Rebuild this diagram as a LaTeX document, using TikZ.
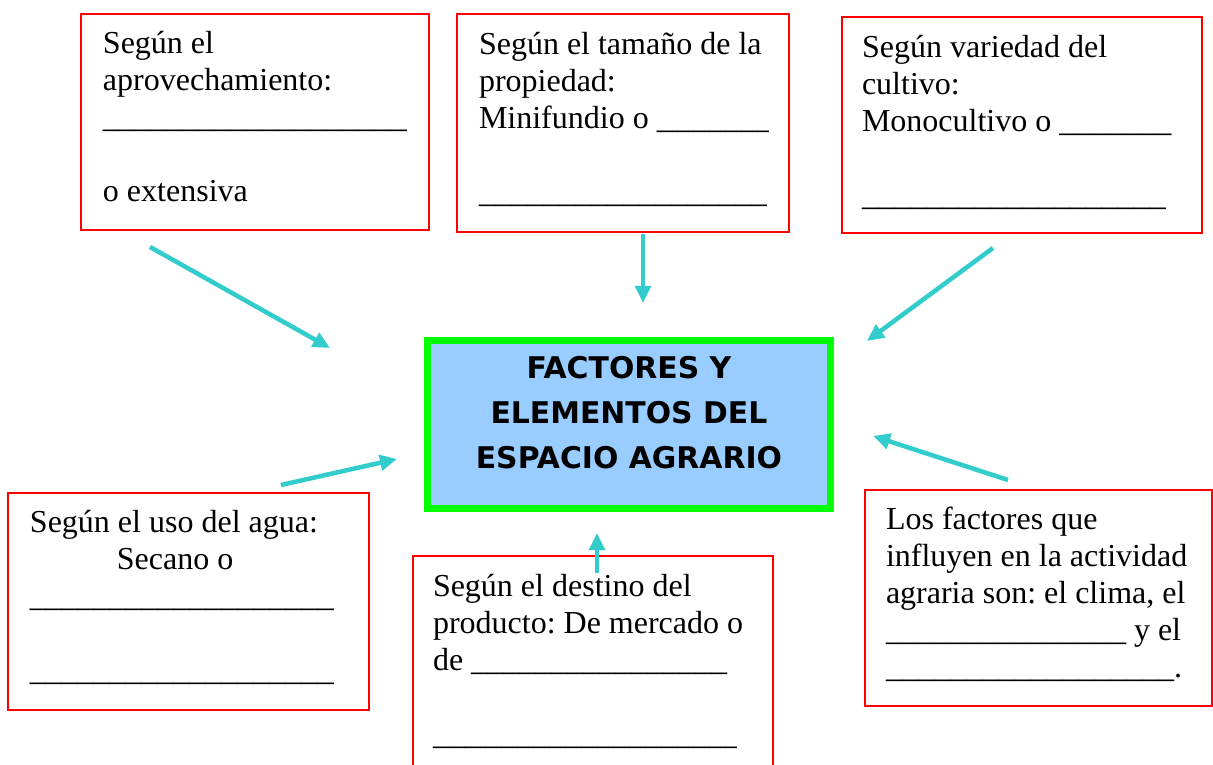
\documentclass[tikz,border=0pt]{standalone}
\usepackage{fontspec}
\setmainfont{Liberation Serif}
\newfontfamily\titlefont{DejaVu Sans}
\usetikzlibrary{arrows.meta}
\definecolor{rojo}{RGB}{255,0,0}
\definecolor{verde}{RGB}{0,255,0}
\definecolor{azul}{RGB}{153,204,255}
\definecolor{turquesa}{RGB}{51,204,204}
% a row of n underscores
\newcommand\rayas[1]{\ifnum#1>0 \_\expandafter\rayas\expandafter{\the\numexpr#1-1\relax}\fi}
\newcommand\textocaja{\fontsize{12}{13.875}\selectfont\frenchspacing
  \spaceskip=3pt plus 0.5pt minus 0.5pt\relax\hyphenpenalty=10000\relax}

\begin{document}
\begin{tikzpicture}[
                x=0.375pt, y=-0.375pt,
                ->,
                >={Triangle[length=6.4pt,width=5.8pt]},
                caja/.style={draw=rojo, line width=0.75pt, rectangle, anchor=north west,
                  outer sep=0pt, inner ysep=0pt, align=flush left, font=\textocaja},
                titulo/.style={draw=verde, fill=azul, line width=2.625pt, rectangle,
                  anchor=north west, outer sep=0pt, inner sep=0pt, align=flush center,
                  text width=151.1pt, text height=14.44pt, text depth=48.56pt,
                  font=\titlefont\bfseries\fontsize{11.2}{16.875}\selectfont},
                every edge/.style={draw=turquesa, line width=1.7pt}
                ]
            \useasboundingbox (0,0) rectangle (1213,765);
            \clip (0,0) rectangle (1213,765);
            % Nodes
            \node[titulo] (titulo) at (427.5,340.5)
              {FACTORES Y\\ELEMENTOS DEL\\ESPACIO AGRARIO};
            \node[caja, inner xsep=8.25pt, text width=114pt, text height=15pt, text depth=66pt]
              (aprov) at (81,14)
              {Según el\\aprovechamiento:\\\rayas{19}\\[\baselineskip]o extensiva};
            \node[caja, inner xsep=8.25pt, text width=108pt, text height=15.375pt, text depth=66.375pt]
              (propiedad) at (457,14)
              {Según el tamaño de la\\propiedad:\\\mbox{Minifundio o \rayas{7}}\\[\baselineskip]\rayas{18}};
            \node[caja, inner xsep=7.5pt, text width=120pt, text height=15.375pt, text depth=65.625pt]
              (variedad) at (842,17)
              {Según variedad del\\cultivo:\\Monocultivo o \rayas{7}\\[\baselineskip]\rayas{19}};
            \node[caja, inner xsep=8.25pt, text width=118.875pt, text height=15pt, text depth=66.375pt]
              (agua) at (8,493)
              {Según el uso del agua:\\\hspace*{32.6pt}Secano o\\\rayas{19}\\[\baselineskip]\rayas{19}};
            \node[caja, inner xsep=7.5pt, text width=120pt, text height=15.375pt, text depth=80pt]
              (destino) at (413,556)
              {Según el destino del\\producto: De mercado o\\de \rayas{16}\\[\baselineskip]\rayas{19}};
            \node[caja, inner xsep=7.875pt, text width=114.4pt, text height=15pt, text depth=66pt]
              (factores) at (865,490)
              {Los factores que\\influyen en la actividad\\agraria son: el clima, el\\\rayas{15} y el\\\rayas{18}.};
            % Arrow ends
            \coordinate (aprov-cola) at (150,247);
            \coordinate (aprov-punta) at (330,348);
            \coordinate (propiedad-cola) at (643,234);
            \coordinate (propiedad-punta) at (643,303);
            \coordinate (variedad-cola) at (993,248);
            \coordinate (variedad-punta) at (867,341);
            \coordinate (agua-cola) at (281,485);
            \coordinate (agua-punta) at (397,459);
            \coordinate (destino-cola) at (597,573);
            \coordinate (destino-punta) at (597,533);
            \coordinate (factores-cola) at (1008,480);
            \coordinate (factores-punta) at (873,436);
            % Edges
            \path
            (aprov-cola) edge (aprov-punta)
            (propiedad-cola) edge (propiedad-punta)
            (variedad-cola) edge (variedad-punta)
            (agua-cola) edge (agua-punta)
            (destino-cola) edge (destino-punta)
            (factores-cola) edge (factores-punta);

            \end{tikzpicture}
\end{document}
